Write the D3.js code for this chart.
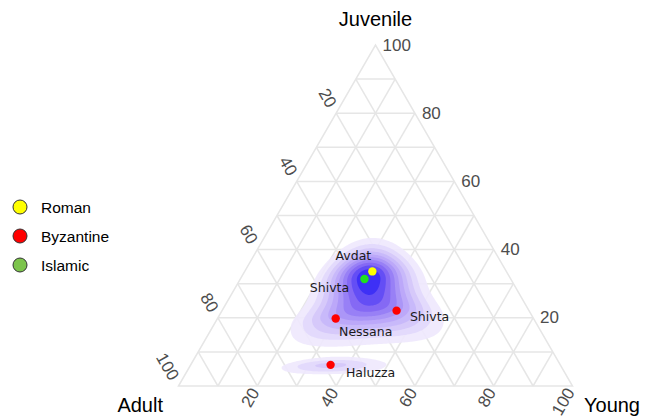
<!DOCTYPE html>
<html><head><meta charset="utf-8">
<script src="https://cdn.jsdelivr.net/npm/d3@7"></script>
<style>body{margin:0;background:#fff}svg{display:block}</style>
</head><body>
<svg id="chart" width="651" height="418"></svg>
<script>
// ---- data ----
const sites     = ["Avdat", "Shivta", "Shivta", "Nessana", "Haluzza"];
const periods   = ["Roman", "Islamic", "Byzantine", "Byzantine", "Byzantine"];
const adult     = [34.0, 37.1, 33.6, 50.2, 58.3];
const juvenile  = [33.6, 31.4, 22.1, 19.8, 6.2];
const young     = [32.4, 31.5, 44.3, 30.0, 35.5];
const kdeWeight = [1, 1, 0.6, 0.6, 0.6];
const legendPeriods = ["Roman", "Byzantine", "Islamic"];
const tickValues = [20, 40, 60, 80, 100];
const gridValues = [10, 20, 30, 40, 50, 60, 70, 80, 90];
// label nudges (px) for site names
const labelDx = [-19, -35, 33, 30, 40];
const labelDy = [-16, 9, 6, 13, 8];

// ---- styles ----
const pointColor  = {Roman: "#ffff00", Byzantine: "#ff0000", Islamic: "#1fe01f"};
const legendColor = {Roman: "#ffff00", Byzantine: "#ff0000", Islamic: "#7cc44c"};

const svg = d3.select("#chart");
const xS = d3.scaleLinear().domain([0, 100]).range([178.5, 572.5]);
const yS = d3.scaleLinear().domain([0, 100]).range([386, 45]);
function proj(a, j, y) {
  const s = a + j + y;
  return [xS((y + j / 2) * 100 / s), yS(j * 100 / s)];
}

// ---- grid ----
const gridG = svg.append("g").attr("stroke", "#e6e6e6").attr("stroke-width", 1.5).attr("fill", "none");
const segs = [];
gridValues.forEach(v => {
  segs.push([proj(100 - v, v, 0), proj(0, v, 100 - v)]);
  segs.push([proj(v, 100 - v, 0), proj(v, 0, 100 - v)]);
  segs.push([proj(100 - v, 0, v), proj(0, 100 - v, v)]);
});
gridG.selectAll("line").data(segs).join("line")
  .attr("x1", d => d[0][0]).attr("y1", d => d[0][1])
  .attr("x2", d => d[1][0]).attr("y2", d => d[1][1]);
gridG.append("path").attr("d", d3.line()([proj(100,0,0), proj(0,100,0), proj(0,0,100)]) + "Z");

// ---- density (KDE in isometric log-ratio space) ----
function ilr(a, j, y) {
  return [Math.SQRT1_2 * Math.log(a / y), Math.sqrt(2 / 3) * Math.log(Math.sqrt(a * y) / j)];
}
const pts = sites.map((s, i) => ilr(adult[i], juvenile[i], young[i]));
const s1 = 0.28, sUp = 0.17, sDown = 0.32;
const step = 1.5;
const x0 = xS(0), y0 = yS(100);
const nx = Math.ceil((xS(100) - x0) / step) + 1;
const ny = Math.ceil((yS(0) - y0) / step) + 1;
const vals = new Float64Array(nx * ny);
let vmax = 0;
for (let gy = 0; gy < ny; gy++) {
  for (let gx = 0; gx < nx; gx++) {
    const px = x0 + (gx + 0.5) * step, py = y0 + (gy + 0.5) * step;
    const J = yS.invert(py);
    const Y = xS.invert(px) - J / 2;
    const A = 100 - J - Y;
    let v = 0;
    if (J > 0.05 && Y > 0.05 && A > 0.05) {
      const c = ilr(A, J, Y);
      pts.forEach((p, i) => {
        const d1 = c[0] - p[0], d2 = c[1] - p[1];
        const s2 = d2 < 0 ? sUp : sDown;
        v += kdeWeight[i] * Math.exp(-d1 * d1 / (2 * s1 * s1) - d2 * d2 / (2 * s2 * s2));
      });
    }
    vals[gx + gy * nx] = v;
    if (v > vmax) vmax = v;
  }
}
const nLevels = 10;
const thresholds = d3.range(1, nLevels + 1).map(k => vmax * k / (nLevels + 1));
const contours = d3.contours().size([nx, ny]).thresholds(thresholds)(vals);
const colorS = d3.scaleLinear().domain([0, 0.5, 0.8, 1])
  .range(["#eee8fd", "#b39ef7", "#7f62f4", "#3a2ef6"]);
const path = d3.geoPath(d3.geoTransform({
  point(x, y) { this.stream.point(x0 + x * step, y0 + y * step); }
}));
svg.append("g").selectAll("path").data(contours).join("path")
  .attr("d", path)
  .attr("fill", (d, i) => colorS(i / (nLevels - 1)))
  .attr("fill-opacity", 0.9);

// ---- points ----
svg.append("g").selectAll("circle").data(sites).join("circle")
  .attr("cx", (d, i) => proj(adult[i], juvenile[i], young[i])[0])
  .attr("cy", (d, i) => proj(adult[i], juvenile[i], young[i])[1])
  .attr("r", 4.2)
  .attr("fill", (d, i) => pointColor[periods[i]]);

svg.append("g").selectAll("text").data(sites).join("text")
  .attr("x", (d, i) => proj(adult[i], juvenile[i], young[i])[0] + labelDx[i])
  .attr("y", (d, i) => proj(adult[i], juvenile[i], young[i])[1] + labelDy[i])
  .attr("text-anchor", "middle").attr("dominant-baseline", "central")
  .attr("font-family", "DejaVu Sans, Verdana, sans-serif").attr("font-size", 12.5)
  .attr("fill", "#1a1a1a")
  .text(d => d);

// ---- tick labels ----
const tickG = svg.append("g").attr("font-family", "Liberation Sans, Arial, sans-serif")
  .attr("font-size", 17).attr("fill", "#4d4d4d");
tickValues.forEach(v => {
  const pr = proj(0, v, 100 - v);
  tickG.append("text").attr("x", pr[0] + 7).attr("y", pr[1])
    .attr("dominant-baseline", "central").text(v);
  const pl = proj(v, 100 - v, 0);
  const lx = pl[0] - 0.5 * 8, ly = pl[1] - 0.866 * 8;
  tickG.append("text").attr("transform", `translate(${lx},${ly}) rotate(60)`)
    .attr("text-anchor", "end").attr("dominant-baseline", "central").text(v);
  const pb = proj(100 - v, 0, v);
  const bx = pb[0] - 0.5 * 4, by = pb[1] + 0.866 * 4;
  tickG.append("text").attr("transform", `translate(${bx},${by}) rotate(-60)`)
    .attr("text-anchor", "end").attr("dominant-baseline", "central").text(v);
});

// ---- axis titles ----
const titleG = svg.append("g").attr("font-family", "Liberation Sans, Arial, sans-serif")
  .attr("font-size", 20).attr("fill", "#000");
titleG.append("text").attr("x", xS(50)).attr("y", 26).attr("text-anchor", "middle").text("Juvenile");
titleG.append("text").attr("x", 163).attr("y", 412).attr("text-anchor", "end").text("Adult");
titleG.append("text").attr("x", 584).attr("y", 412).attr("text-anchor", "start").text("Young");

// ---- legend ----
const legY = d3.scalePoint().domain(legendPeriods).range([207, 265]);
const leg = svg.append("g");
leg.selectAll("circle").data(legendPeriods).join("circle")
  .attr("cx", 20).attr("cy", d => legY(d)).attr("r", 7)
  .attr("fill", d => legendColor[d]).attr("stroke", "#333").attr("stroke-width", 1);
leg.selectAll("text").data(legendPeriods).join("text")
  .attr("x", 41).attr("y", d => legY(d)).attr("dominant-baseline", "central")
  .attr("font-family", "Liberation Sans, Arial, sans-serif").attr("font-size", 15.5)
  .attr("fill", "#000").text(d => d);
</script>
</body></html>
